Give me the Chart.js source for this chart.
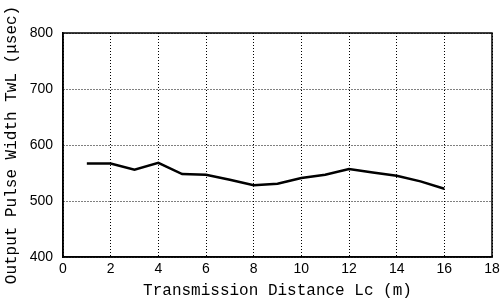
<!DOCTYPE html>
<html>
<head>
<meta charset="utf-8">
<script src="https://cdn.jsdelivr.net/npm/chart.js@4/dist/chart.umd.min.js"></script>
<style>
  html, body { margin: 0; padding: 0; background: #fff; }
  #wrap { width: 504px; height: 308px; }
</style>
</head>
<body>
<div id="wrap"><canvas id="pulseChart" width="504" height="308"></canvas></div>
<script>
// distance Lc (m) and measured pulse width TwL (usec)
const distances = [1, 2, 3, 4, 5, 6, 7, 8, 9, 10, 11, 12, 13, 14, 15, 16];
const pulseWidths = [567, 567, 556, 568, 548, 547, 538, 528, 531, 541, 547, 557, 551, 545, 535, 522];
const xRange = [0, 18];
const yRange = [400, 800];

const labelFont = { family: 'Liberation Mono', size: 16 };
const tickFont = { family: 'Liberation Sans', size: 14 };

// box around the plot area
const frame = {
  id: 'frame',
  afterDraw(chart) {
    const { ctx, chartArea: a } = chart;
    ctx.save();
    ctx.strokeStyle = '#000';
    ctx.lineWidth = 1.5;
    ctx.strokeRect(a.left, a.top, a.right - a.left, a.bottom - a.top);
    ctx.restore();
  }
};

const pulseChart = new Chart(document.getElementById('pulseChart'), {
  type: 'line',
  data: {
    datasets: [{
      data: distances.map((d, i) => ({ x: d, y: pulseWidths[i] })),
      borderColor: '#000',
      borderWidth: 2.5,
      pointRadius: 0,
      tension: 0,
      fill: false
    }]
  },
  options: {
    responsive: false,
    animation: false,
    layout: { padding: { top: 33, right: 12, left: 0, bottom: 0 } },
    plugins: {
      legend: { display: false },
      tooltip: { enabled: false }
    },
    scales: {
      x: {
        type: 'linear',
        min: xRange[0],
        max: xRange[1],
        afterFit: s => { s.height = 51; },
        ticks: { stepSize: 2, color: '#000', font: tickFont, padding: 4, maxRotation: 0 },
        grid: { color: '#000', lineWidth: 1, drawTicks: false },
        border: { display: true, color: '#000', width: 1.5, dash: [1, 2] },
        title: { display: true, text: 'Transmission Distance Lc (m)', color: '#000', font: labelFont, padding: { top: 0, bottom: 8 } }
      },
      y: {
        min: yRange[0],
        max: yRange[1],
        afterFit: s => { s.width = 63; },
        ticks: { stepSize: 100, color: '#000', font: tickFont, padding: 10 },
        grid: { color: '#000', lineWidth: 1, drawTicks: false },
        border: { display: true, color: '#000', width: 1.5, dash: [1, 2] },
        title: { display: true, text: 'Output Pulse Width TwL (\u03bcsec)', color: '#000', font: labelFont, padding: { top: 2, bottom: 0 } }
      }
    }
  },
  plugins: [frame]
});
</script>
</body>
</html>
